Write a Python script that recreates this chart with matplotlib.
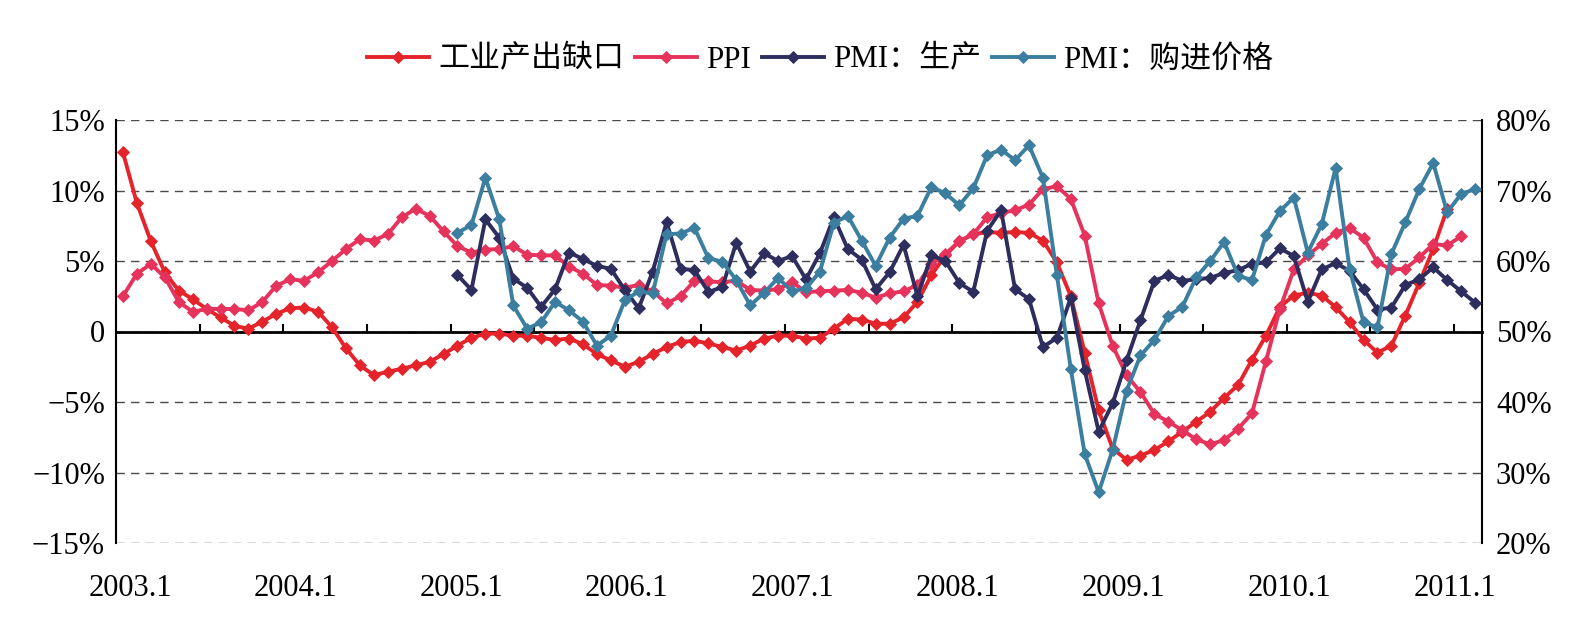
import numpy as np
import matplotlib
matplotlib.use("Agg")
import matplotlib.pyplot as plt

plt.rcParams['font.family'] = ['Liberation Serif', 'Noto Sans CJK SC']
plt.rcParams['axes.unicode_minus'] = True

# ---------------- data ----------------
months = [f"{y}.{m}" for y in range(2003, 2012) for m in range(1, 13)][:98]
x_labels = ["2003.1", "2004.1", "2005.1", "2006.1", "2007.1",
            "2008.1", "2009.1", "2010.1", "2011.1"]
series_names = ["工业产出缺口", "PPI", "PMI：生产", "PMI：购进价格"]

# left axis (%), start 2003.1
output_gap = [12.7, 9.1, 6.4, 4.2, 2.9, 2.3, 1.6, 1.0, 0.4, 0.2,
              0.7, 1.25, 1.65, 1.7, 1.4, 0.3, -1.2, -2.4, -3.1, -2.85,
              -2.65, -2.4, -2.15, -1.6, -1.0, -0.45, -0.15, -0.15, -0.3, -0.3,
              -0.45, -0.6, -0.5, -0.9, -1.6, -2.05, -2.5, -2.15, -1.6, -1.1,
              -0.75, -0.65, -0.85, -1.1, -1.35, -1.0, -0.5, -0.3, -0.3, -0.5,
              -0.45, 0.2, 0.9, 0.85, 0.55, 0.55, 1.0, 2.1, 4.0, 5.4,
              6.4, 6.9, 7.05, 7.0, 7.05, 7.0, 6.45, 4.9, 2.5, -1.5,
              -5.6, -8.3, -9.1, -8.8, -8.4, -7.8, -7.1, -6.4, -5.7, -4.7,
              -3.8, -2.0, -0.3, 1.75, 2.55, 2.75, 2.55, 1.73, 0.66, -0.6,
              -1.5, -1.0, 1.13, 3.45, 5.86, 8.7]
ppi = [2.5, 4.1, 4.8, 3.85, 2.1, 1.4, 1.6, 1.6, 1.6, 1.5,
       2.1, 3.25, 3.7, 3.6, 4.2, 5.0, 5.85, 6.55, 6.45, 6.9,
       8.1, 8.7, 8.2, 7.1, 6.05, 5.6, 5.8, 5.85, 6.05, 5.45,
       5.4, 5.4, 4.6, 4.1, 3.3, 3.25, 3.1, 3.3, 2.85, 2.0,
       2.5, 3.6, 3.55, 3.5, 3.6, 2.95, 2.9, 3.0, 3.5, 2.8,
       2.85, 2.9, 2.95, 2.75, 2.4, 2.7, 2.85, 3.3, 4.8, 5.5,
       6.4, 6.9, 8.1, 8.4, 8.6, 9.0, 10.1, 10.3, 9.4, 6.8,
       2.0, -1.0, -3.1, -4.3, -5.85, -6.4, -7.0, -7.65, -8.0, -7.7,
       -6.9, -5.8, -2.1, 1.6, 4.4, 5.4, 6.2, 7.0, 7.35, 6.65,
       4.9, 4.4, 4.45, 5.25, 6.2, 6.1, 6.75]

# right axis (%), start 2005.1
pmi_start = "2005.1"
pmi_production = [58.0, 55.9, 65.9, 63.3, 57.5, 56.2, 53.5, 56.0, 61.2, 60.3,
                  59.3, 58.9, 55.9, 53.3, 58.5, 65.5, 58.9, 58.7, 55.6, 56.3,
                  62.6, 58.5, 61.1, 60.0, 60.7, 57.4, 61.1, 66.2, 61.7, 60.2,
                  56.0, 58.4, 62.3, 55.0, 60.8, 60.0, 56.9, 55.6, 64.3, 67.2,
                  56.0, 54.6, 47.8, 49.1, 54.8, 44.5, 35.8, 39.8, 45.9, 51.6,
                  57.2, 58.0, 57.2, 57.4, 57.6, 58.3, 58.7, 59.6, 59.8, 61.8,
                  60.7, 54.2, 58.8, 59.7, 58.6, 56.0, 53.1, 53.4, 56.6, 57.4,
                  59.1, 57.3, 55.7, 54.1]
pmi_price = [64.0, 65.1, 71.8, 65.9, 53.7, 50.4, 51.3, 54.2, 53.0, 51.4,
             48.0, 49.4, 54.4, 55.7, 55.4, 63.8, 63.9, 64.7, 60.4, 59.9,
             57.3, 53.7, 55.5, 57.6, 55.7, 56.1, 58.5, 65.4, 66.4, 62.9,
             59.3, 63.3, 66.0, 66.4, 70.5, 69.6, 67.9, 70.3, 75.0, 75.8,
             74.3, 76.4, 71.8, 58.0, 44.7, 32.6, 27.2, 33.2, 41.6, 46.6,
             48.8, 52.2, 53.5, 57.7, 60.0, 62.7, 57.9, 57.3, 63.7, 67.1,
             69.0, 61.2, 65.2, 73.2, 58.9, 51.3, 50.6, 61.0, 65.5, 70.2,
             73.9, 66.9, 69.5, 70.2]

left_ticks = [-15, -10, -5, 0, 5, 10, 15]
right_ticks = [20, 30, 40, 50, 60, 70, 80]

colors = ["#E4232B", "#E6335C", "#2D2D5E", "#3B7E9F"]

# ---------------- figure ----------------
W, H = 1586, 622
fig = plt.figure(figsize=(W / 100, H / 100), dpi=100)
ax = fig.add_axes([116 / W, 1 - 543 / H, 1366 / W, 423 / H])
ax2 = ax.twinx()

x_all = np.arange(len(months))
x_gap = x_all[:len(output_gap)]
x_ppi = x_all[:len(ppi)]
p0 = months.index(pmi_start)
x_pmi = x_all[p0:p0 + len(pmi_production)]

lw, ms = 2.8, 5.8
kw = dict(marker="D", linewidth=lw, markersize=ms, markeredgewidth=0.6, zorder=3)
h1, = ax.plot(x_gap, output_gap, color=colors[0], markeredgecolor=colors[0], **kw)
h2, = ax.plot(x_ppi, ppi, color=colors[1], markeredgecolor=colors[1], **kw)
h3, = ax2.plot(x_pmi, pmi_production, color=colors[2], markeredgecolor=colors[2], **kw)
h4, = ax2.plot(x_pmi, pmi_price, color=colors[3], markeredgecolor=colors[3], **kw)

ax.set_xlim(-0.5, len(months) - 0.5)
ax.set_ylim(-15, 15)
ax2.set_ylim(20, 80)

# gridlines
ax.set_yticks(left_ticks)
ax.set_yticklabels(["−15%", "−10%", "−5%", "0", "5%", "10%", "15%"])
ax2.set_yticks(right_ticks)
ax2.set_yticklabels([f"{v}%" for v in right_ticks])
ax.yaxis.grid(True, linestyle=(0, (6, 4.5)), color="#4a4a4a", linewidth=1.0)
ax.set_axisbelow(True)

ax.tick_params(axis="y", length=0, pad=8, labelsize=22)
ax2.tick_params(axis="y", length=0, pad=10, labelsize=22)

# spines
for a in (ax, ax2):
    a.spines["top"].set_visible(False)
    a.spines["left"].set_linewidth(1.5)
    a.spines["right"].set_linewidth(1.5)
ax2.spines["bottom"].set_visible(False)
ax.spines["right"].set_visible(False)
ax2.spines["left"].set_visible(False)

# zero line with ticks every 6 months at category boundaries
ax.spines["bottom"].set_position(("data", 0))
ax.spines["bottom"].set_linewidth(2.0)
ax.spines["bottom"].set_zorder(2.5)
ax.set_xticks(np.arange(5.5, len(months) - 1, 6))
ax.tick_params(axis="x", direction="in", length=6, width=1.5, labelbottom=False)

# year labels at bottom (label row is slightly narrower than the plot, as in the source)
sec = ax.secondary_xaxis("bottom")
sec.set_xticks([months.index(l) * 0.99 + 0.5 for l in x_labels])
sec.set_xticklabels(x_labels)
sec.tick_params(length=0, pad=22, labelsize=22)
sec.spines["bottom"].set_visible(False)

# legend
fig.legend([h1, h2, h3, h4], series_names, loc="center", ncol=4,
           bbox_to_anchor=(0.517, 1 - 60 / H), frameon=False,
           fontsize=22.3, handlelength=2.0, handletextpad=0.3,
           columnspacing=0.35, borderaxespad=0)

fig.savefig("out.png", dpi=100)
